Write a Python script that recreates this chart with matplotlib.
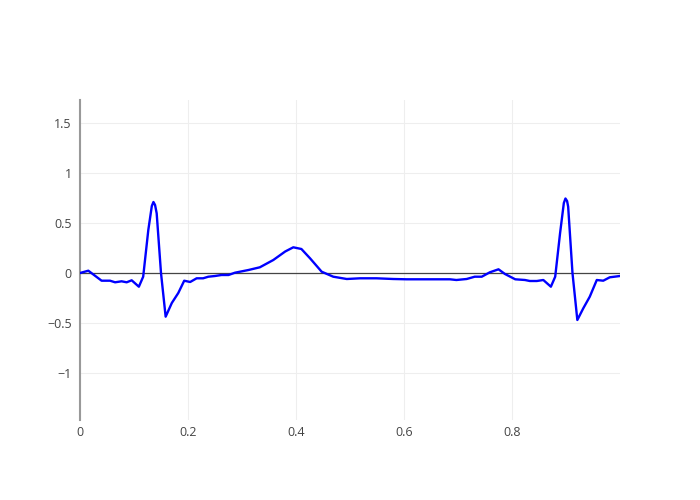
import matplotlib
matplotlib.use("Agg")
import matplotlib.pyplot as plt
from matplotlib.ticker import FuncFormatter

t = [0.0, 0.0154, 0.040, 0.0556, 0.065, 0.077, 0.0864, 0.0957, 0.109, 0.117,
     0.1265, 0.133, 0.136, 0.139, 0.142, 0.150, 0.1586, 0.170, 0.182, 0.193,
     0.204, 0.216, 0.228, 0.2377, 0.25, 0.262, 0.275, 0.287, 0.312, 0.333,
     0.358, 0.380, 0.395, 0.410, 0.426, 0.4475, 0.469, 0.494, 0.5185, 0.549,
     0.580, 0.605, 0.642, 0.667, 0.685, 0.697, 0.716, 0.731, 0.744, 0.759,
     0.775, 0.787, 0.806, 0.824, 0.833, 0.846, 0.858, 0.872, 0.880, 0.889,
     0.896, 0.899, 0.902, 0.904, 0.912, 0.921, 0.932, 0.944, 0.957, 0.969,
     0.981, 1.0]
ecg = [0.0, 0.023, -0.077, -0.077, -0.093, -0.083, -0.093, -0.073, -0.137, -0.037,
       0.43, 0.67, 0.71, 0.68, 0.597, 0.0, -0.437, -0.30, -0.20, -0.077,
       -0.09, -0.053, -0.053, -0.037, -0.03, -0.02, -0.02, 0.003, 0.03, 0.057,
       0.13, 0.215, 0.257, 0.24, 0.147, 0.013, -0.037, -0.06, -0.053, -0.053,
       -0.06, -0.063, -0.063, -0.063, -0.063, -0.07, -0.06, -0.037, -0.037, 0.007,
       0.037, -0.01, -0.063, -0.07, -0.08, -0.08, -0.07, -0.137, -0.037, 0.397,
       0.70, 0.745, 0.72, 0.663, 0.0, -0.47, -0.353, -0.237, -0.07, -0.077,
       -0.043, -0.03]

xticks = [0, 0.2, 0.4, 0.6, 0.8]
yticks = [-1, -0.5, 0, 0.5, 1, 1.5]

plt.rcParams['font.family'] = ['Open Sans', 'DejaVu Sans']

fig = plt.figure(figsize=(7, 5), dpi=100)
ax = fig.add_axes([80/700, 80/500, 540/700, 320/500])

ax.plot(t, ecg, color='#0000ff', lw=1.7, solid_joinstyle='round', zorder=3)
ax.axhline(0, color='#444444', lw=0.9, zorder=2)

ax.set_xlim(0, 1.0)
ax.set_ylim(-1.47, 1.73)
ax.set_xticks(xticks)
ax.set_yticks(yticks)

def fmt(v, pos):
    s = ('%g' % v)
    return s.replace('-', '\u2212')

ax.xaxis.set_major_formatter(FuncFormatter(fmt))
ax.yaxis.set_major_formatter(FuncFormatter(fmt))

ax.grid(True, color='#eeeeee', lw=0.75, zorder=0)
ax.set_axisbelow(True)
for s in ['top', 'right', 'bottom']:
    ax.spines[s].set_visible(False)
ax.spines['left'].set_color('#999999')
ax.spines['left'].set_linewidth(1.5)
ax.tick_params(axis='both', length=0, labelsize=9, colors='#444444')
ax.tick_params(axis='y', pad=6)
ax.tick_params(axis='x', pad=4)

fig.savefig('out.png', dpi=100, facecolor='white')
